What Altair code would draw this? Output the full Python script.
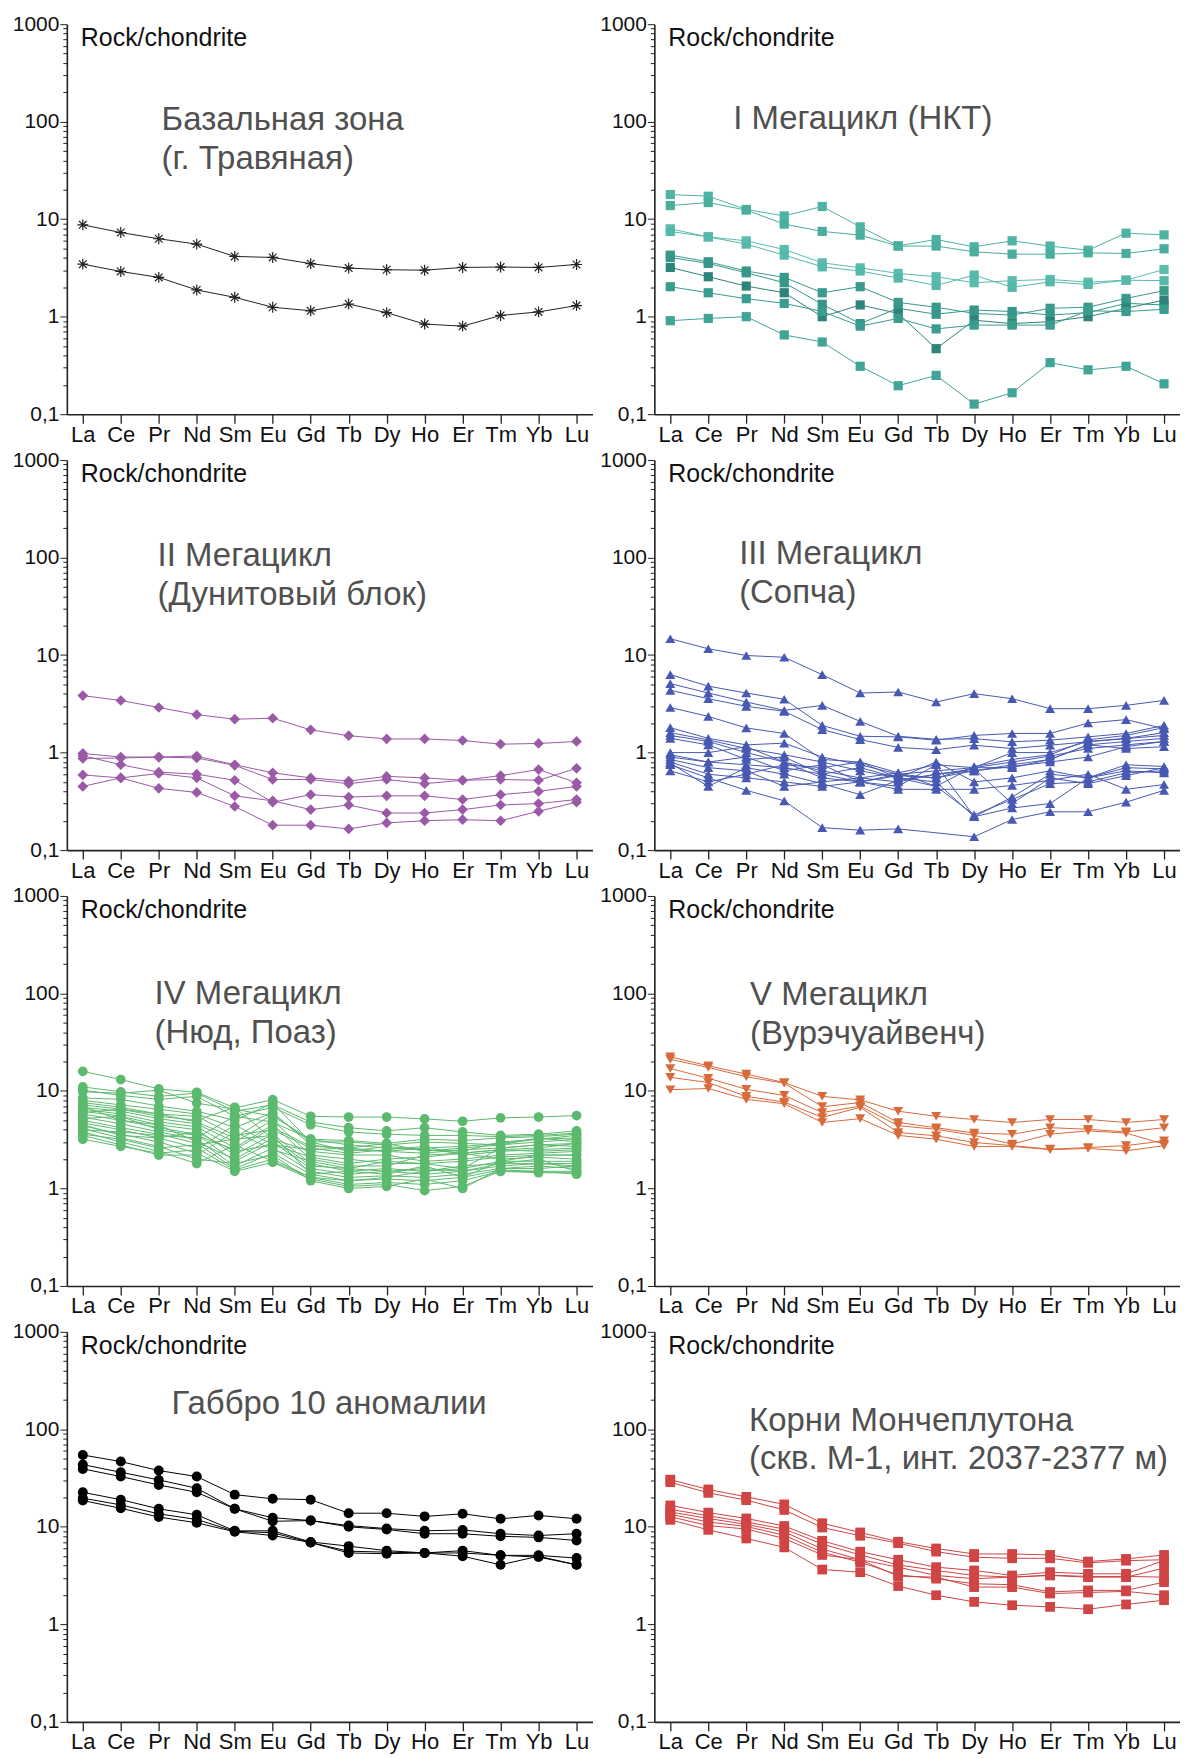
import altair as alt
import pandas as pd

ELEMENTS = ["La", "Ce", "Pr", "Nd", "Sm", "Eu", "Gd", "Tb", "Dy", "Ho", "Er", "Tm", "Yb", "Lu"]

# ---- Базальная зона (г. Травяная)
basal = [
    [8.75, 7.3, 6.3, 5.55, 4.15, 4.05, 3.5, 3.15, 3.03, 3.0, 3.2, 3.23, 3.2, 3.43],
    [3.46, 2.91, 2.53, 1.88, 1.58, 1.25, 1.15, 1.35, 1.1, 0.84, 0.80, 1.03, 1.12, 1.3],
]

# ---- I Мегацикл (НКТ)
mc1 = [
    [17.9, 17.2, 12.6, 10.8, 13.5, 8.35, 5.33, 6.19, 5.21, 6.0, 5.3, 4.81, 7.19, 6.91],
    [13.8, 14.8, 12.4, 8.9, 7.5, 6.86, 5.3, 5.3, 4.63, 4.38, 4.38, 4.52, 4.45, 4.97],
    [7.96, 6.59, 6.0, 4.89, 3.57, 3.17, 2.78, 2.57, 2.23, 2.34, 2.41, 2.26, 2.37, 3.05],
    [7.48, 6.59, 5.55, 4.28, 3.25, 2.94, 2.49, 2.09, 2.67, 2.0, 2.28, 2.14, 2.37, 2.34],
    [4.28, 3.66, 2.94, 2.53, 1.76, 2.03, 1.40, 1.25, 1.08, 1.04, 1.22, 1.25, 1.54, 1.85],
    [4.05, 3.52, 2.82, 2.23, 1.34, 0.85, 1.22, 1.06, 1.17, 1.13, 1.04, 1.10, 1.37, 1.32],
    [3.2, 2.57, 2.06, 1.76, 1.0, 1.32, 1.08, 0.47, 0.92, 0.85, 0.89, 1.0, 1.22, 1.48],
    [2.03, 1.76, 1.53, 1.37, 1.13, 0.80, 0.96, 0.75, 0.82, 0.82, 0.82, 1.15, 1.13, 1.19],
    [0.91, 0.96, 1.0, 0.65, 0.55, 0.31, 0.196, 0.25, 0.127, 0.166, 0.338, 0.285, 0.31, 0.205],
]
mc1_colors = ["#4db3a3", "#4aae9f", "#5cbdae", "#56b8aa", "#3a9a8c", "#35968a",
              "#2e8479", "#3a9c8f", "#40a596"]

# ---- II Мегацикл (Дунитовый блок)
mc2 = [
    [3.84, 3.42, 2.9, 2.45, 2.2, 2.25, 1.71, 1.49, 1.38, 1.38, 1.33, 1.22, 1.24, 1.30],
    [0.98, 0.90, 0.90, 0.92, 0.75, 0.62, 0.55, 0.51, 0.57, 0.55, 0.52, 0.58, 0.67, 0.49],
    [0.87, 0.88, 0.90, 0.88, 0.74, 0.53, 0.53, 0.48, 0.53, 0.48, 0.52, 0.53, 0.52, 0.69],
    [0.93, 0.75, 0.63, 0.60, 0.52, 0.31, 0.37, 0.35, 0.36, 0.36, 0.33, 0.37, 0.40, 0.45],
    [0.59, 0.55, 0.61, 0.55, 0.36, 0.32, 0.26, 0.29, 0.24, 0.24, 0.26, 0.29, 0.30, 0.33],
    [0.45, 0.55, 0.43, 0.39, 0.28, 0.18, 0.18, 0.165, 0.19, 0.20, 0.205, 0.20, 0.25, 0.31],
]

# ---- III Мегацикл (Сопча)
mc3 = [
    [14.7, 11.6, 9.9, 9.5, 6.3, 4.08, 4.18, 3.3, 4.02, 3.57, 2.82, 2.82, 3.05, 3.43],
    [6.3, 4.8, 4.08, 3.52, 1.9, 1.47, 1.45, 1.34, 1.5, 1.57, 1.57, 2.01, 2.18, 1.76],
    [5.1, 4.08, 3.3, 2.71, 3.05, 2.09, 1.47, 1.37, 1.39, 1.29, 1.34, 1.45, 1.57, 1.9],
    [4.35, 3.57, 2.98, 2.65, 1.72, 1.36, 1.13, 1.07, 1.19, 1.1, 1.19, 1.29, 1.39, 1.5],
    [2.9, 2.35, 1.79, 1.57, 0.85, 0.80, 0.62, 0.75, 0.70, 0.80, 0.92, 1.1, 1.2, 1.3],
    [1.8, 1.4, 1.2, 1.25, 0.9, 0.75, 0.6, 0.55, 0.7, 1.0, 1.0, 1.3, 1.4, 1.6],
    [1.6, 1.35, 1.1, 0.95, 0.8, 0.65, 0.55, 0.45, 0.72, 0.85, 0.95, 1.35, 1.5, 1.8],
    [1.5, 1.3, 1.0, 0.8, 0.65, 0.55, 0.5, 0.6, 0.65, 0.75, 0.85, 1.2, 1.3, 1.4],
    [1.0, 1.0, 1.15, 0.8, 0.55, 0.5, 0.45, 0.75, 0.22, 0.35, 0.6, 0.55, 0.75, 0.72],
    [0.9, 0.8, 0.75, 0.7, 0.6, 0.7, 0.55, 0.5, 0.22, 0.27, 0.3, 0.55, 0.7, 0.68],
    [0.85, 0.7, 0.65, 0.45, 0.5, 0.55, 0.62, 0.45, 0.23, 0.33, 0.48, 0.5, 0.62, 0.65],
    [0.8, 0.6, 0.55, 0.5, 0.45, 0.5, 0.42, 0.42, 0.42, 0.46, 0.52, 0.6, 0.42, 0.47],
    [0.75, 0.55, 0.41, 0.32, 0.17, 0.16, 0.165, None, 0.137, 0.206, 0.247, 0.247, 0.31, 0.41],
    [0.65, 0.5, 0.6, 0.75, 0.7, 0.8, 0.55, 0.8, 0.5, 0.55, 0.65, 0.55, 0.65, 0.62],
    [0.95, 0.8, 0.9, 0.65, 0.75, 0.5, 0.6, 0.65, 0.7, 0.7, 0.85, 1.2, 1.1, 1.15],
    [1.4, 1.2, 0.85, 0.9, 0.6, 0.5, 0.58, 0.55, 0.65, 0.72, 0.8, 0.9, 1.15, 1.3],
    [0.78, 0.45, 0.7, 0.6, 0.48, 0.37, 0.52, 0.6, 0.68, 0.3, 0.55, 0.48, 0.58, 0.7],
]

# ---- IV Мегацикл (Нюд, Поаз)
mc4 = [
    [15.9, 13.1, 10.5, 9.7, 6.7, 8.15, 5.5, 5.4, 5.4, 5.17, 4.89, 5.3, 5.4, 5.6],
    [11.0, 9.8, 8.8, 9.5, 6.2, 7.2, 4.8, 4.2, 3.9, 4.2, 3.8, 3.5, 3.6, 3.9],
    [10.2, 9.0, 8.2, 8.8, 5.5, 6.8, 4.5, 3.8, 3.6, 3.5, 3.5, 3.4, 3.5, 3.7],
    [9.8, 9.5, 10.2, 7.5, 6.5, 5.5, 3.2, 2.8, 2.6, 2.5, 2.4, 3.0, 3.2, 3.5],
    [8.5, 8.2, 7.0, 6.2, 5.0, 7.5, 3.0, 3.0, 2.8, 3.0, 2.9, 2.8, 3.3, 3.0],
    [8.0, 7.2, 6.5, 5.8, 4.2, 6.0, 2.8, 2.5, 2.4, 2.3, 2.5, 2.6, 2.8, 2.7],
    [7.6, 6.8, 5.8, 5.5, 3.5, 4.0, 2.6, 2.3, 2.5, 2.7, 2.2, 2.4, 2.5, 2.6],
    [7.2, 6.5, 5.5, 5.0, 6.8, 3.2, 2.4, 2.2, 2.2, 1.9, 2.0, 2.2, 2.3, 2.4],
    [6.8, 6.2, 5.2, 4.6, 3.0, 5.0, 2.2, 2.0, 1.8, 1.8, 1.9, 2.1, 2.2, 2.2],
    [6.5, 5.8, 4.8, 4.3, 2.6, 4.5, 2.0, 1.7, 1.7, 2.2, 2.3, 2.0, 2.1, 2.0],
    [6.2, 5.5, 4.5, 4.0, 2.2, 3.6, 1.8, 1.5, 1.6, 1.5, 1.6, 1.9, 1.9, 1.9],
    [5.8, 5.0, 4.2, 3.6, 1.9, 3.0, 1.6, 1.4, 1.5, 1.4, 1.5, 1.7, 1.8, 1.8],
    [5.4, 4.6, 3.8, 3.2, 1.7, 2.6, 1.5, 1.3, 1.35, 1.3, 1.4, 1.6, 1.6, 1.7],
    [5.0, 4.2, 3.6, 2.9, 1.6, 2.3, 1.4, 1.2, 1.25, 1.2, 1.3, 1.55, 1.5, 1.5],
    [4.7, 4.0, 3.3, 2.6, 1.55, 2.0, 1.3, 1.1, 1.15, 1.1, 1.2, 1.5, 1.45, 1.45],
    [4.4, 3.6, 3.0, 2.3, 1.5, 1.85, 1.25, 1.05, 1.1, 0.95, 1.05, 1.5, 1.5, 1.4],
    [4.1, 3.3, 2.7, 2.0, 1.8, 2.2, 1.2, 1.0, 1.05, 1.25, 1.0, 1.6, 1.7, 1.6],
    [3.8, 3.0, 2.4, 1.8, 2.8, 1.9, 1.3, 1.2, 1.3, 1.5, 1.7, 1.8, 2.0, 1.5],
    [3.5, 2.8, 2.2, 2.2, 3.8, 2.5, 1.9, 1.6, 1.9, 1.8, 1.6, 2.6, 2.8, 2.9],
    [3.2, 2.7, 2.3, 2.5, 4.5, 2.8, 2.5, 2.6, 2.4, 2.6, 2.7, 2.9, 3.2, 3.3],
    [4.0, 3.8, 3.5, 3.3, 5.5, 4.8, 3.2, 3.1, 2.9, 3.2, 3.1, 3.3, 3.4, 3.6],
    [5.2, 5.5, 4.0, 3.5, 2.5, 4.2, 2.7, 2.6, 2.9, 2.4, 2.6, 2.8, 3.0, 3.2],
    [6.0, 6.5, 5.8, 4.8, 3.3, 5.8, 3.0, 2.4, 2.7, 2.5, 2.3, 2.5, 2.6, 2.9],
    [7.0, 5.0, 4.5, 3.0, 2.0, 3.3, 1.7, 1.6, 1.5, 1.6, 1.5, 1.8, 1.8, 1.7],
    [4.5, 3.5, 3.3, 3.8, 2.4, 2.8, 2.1, 1.8, 2.0, 2.1, 2.3, 2.5, 2.4, 2.5],
    [3.6, 3.2, 2.6, 2.8, 3.2, 3.5, 1.4, 1.5, 1.4, 1.7, 1.3, 1.9, 2.2, 2.2],
]

# ---- V Мегацикл (Вурэчуайвенч)
mc5 = [
    [22.4, 18.1, 14.9, 12.2, 8.8, 8.1, 6.2, 5.5, 5.1, 4.75, 5.1, 5.1, 4.75, 5.1],
    [21.1, 17.4, 14.0, 12.0, 6.9, 7.6, 4.75, 4.2, 3.7, 3.6, 4.2, 4.05, 3.8, 4.2],
    [17.0, 13.5, 10.4, 9.0, 6.0, 7.0, 4.4, 4.05, 3.5, 2.85, 3.6, 3.9, 3.7, 2.85],
    [13.8, 12.2, 8.8, 7.7, 5.35, 6.8, 3.75, 3.47, 2.96, 2.75, 2.53, 2.63, 2.75, 3.08],
    [10.3, 10.6, 8.2, 7.4, 4.75, 5.2, 3.5, 3.2, 2.7, 2.7, 2.5, 2.57, 2.43, 2.75],
]

# ---- Габбро 10 аномалии
gabbro = [
    [54.6, 46.7, 37.8, 32.8, 21.4, 19.4, 19.0, 13.8, 13.8, 12.8, 13.6, 12.1, 13.1, 12.1],
    [43.5, 36.3, 30.3, 24.9, 15.3, 12.4, 11.6, 10.3, 9.6, 9.1, 9.3, 8.5, 8.15, 8.5],
    [39.3, 32.8, 26.9, 22.6, 15.3, 11.4, 11.6, 10.0, 9.4, 8.5, 8.5, 8.0, 7.8, 7.25],
    [22.6, 19.0, 15.3, 13.3, 9.1, 9.1, 7.0, 6.34, 5.7, 5.4, 5.7, 5.1, 5.1, 4.78],
    [19.7, 16.8, 13.6, 11.9, 9.0, 8.7, 6.9, 5.63, 5.5, 5.4, 5.4, 5.1, 4.9, 4.08],
    [18.6, 15.5, 12.6, 11.0, 8.9, 8.15, 6.9, 5.4, 5.3, 5.4, 5.0, 4.08, 5.0, 4.08],
]

# ---- Корни Мончеплутона (скв. М-1, инт. 2037-2377 м)
monche = [
    [30.5, 24.2, 20.3, 17.0, 10.9, 8.76, 7.04, 6.0, 5.27, 5.27, 5.15, 4.41, 4.69, 5.15],
    [28.7, 22.3, 18.8, 14.9, 9.85, 8.1, 6.8, 5.57, 4.88, 4.76, 4.76, 4.27, 4.5, 4.6],
    [16.6, 14.0, 12.2, 10.2, 7.2, 5.57, 4.6, 3.86, 3.57, 3.17, 3.43, 3.3, 3.3, 4.51],
    [15.1, 13.0, 11.2, 9.5, 6.67, 5.15, 4.07, 3.57, 3.17, 3.05, 3.17, 3.05, 3.05, 3.77],
    [14.2, 12.2, 10.6, 8.9, 5.93, 4.6, 3.86, 3.17, 2.94, 3.05, 3.2, 3.1, 3.1, 3.05],
    [13.5, 11.2, 10.1, 8.2, 5.49, 4.34, 3.22, 2.94, 2.61, 2.55, 2.15, 2.23, 2.23, 2.71],
    [12.7, 10.3, 9.5, 7.6, 5.15, 4.6, 3.12, 3.05, 2.41, 2.41, 2.07, 2.12, 2.18, 1.99],
    [11.8, 9.32, 7.6, 6.16, 3.65, 3.43, 2.47, 1.99, 1.70, 1.57, 1.51, 1.43, 1.6, 1.77],
]

FONT = "Liberation Sans"
W, H = 527, 391
ASTERISK = "M-1,0L1,0M0,-1L0,1M-0.7,-0.7L0.7,0.7M-0.7,0.7L0.7,-0.7"

YTICKS = [m * 10.0 ** e for e in range(-1, 3) for m in range(1, 10)] + [1000.0]
MAJOR_TEST = "abs(log(datum.value)/LN10 - round(log(datum.value)/LN10)) < 1e-6"


def panel(series, colors, shape, size, title_lines, tx, ty, filled=True, stroke_w=1.0):
    if isinstance(colors, str):
        colors = [colors] * len(series)
    rows = []
    for i, s in enumerate(series):
        for j, (el, v) in enumerate(zip(ELEMENTS, s)):
            if v is None:
                continue
            rows.append({"s": "s%02d" % i, "el": el, "idx": j, "v": v, "c": colors[i]})
    df = pd.DataFrame(rows)

    xaxis = alt.Axis(labelFont=FONT, labelFontSize=22, labelColor="#111", labelAngle=0,
                     tickSize=9, tickColor="#222", tickWidth=1.3, domainColor="#222",
                     domainWidth=1.6, labelPadding=1, grid=False, labelFlush=False)
    yaxis = alt.Axis(values=YTICKS, labelFont=FONT, labelFontSize=21, labelColor="#111",
                     labelExpr="(" + MAJOR_TEST + ") ? (datum.value < 0.5 ? '0,1' : format(datum.value, 'd')) : ''",
                     tickSize={"condition": {"test": MAJOR_TEST, "value": 7}, "value": 4},
                     tickColor="#222", tickWidth=1, domainColor="#222", domainWidth=1.6,
                     labelPadding=1, grid=False, labelFlush=False, labelOverlap=False)

    base = alt.Chart(df).encode(
        x=alt.X("el:N", sort=ELEMENTS, title=None,
                scale=alt.Scale(type="point", padding=0.42, domain=ELEMENTS), axis=xaxis),
        y=alt.Y("v:Q", title=None,
                scale=alt.Scale(type="log", domain=[0.1, 1000], nice=False), axis=yaxis),
        color=alt.Color("c:N", scale=None, legend=None),
        detail="s:N",
        order="idx:Q",
    )
    lines = base.mark_line(strokeWidth=stroke_w)
    if filled:
        pts = base.mark_point(shape=shape, size=size, filled=True, opacity=1)
    else:
        pts = base.mark_point(shape=shape, size=size, filled=False, opacity=1, strokeWidth=1.2)

    one = pd.DataFrame({"a": [0]})
    label = alt.Chart(one).mark_text(font=FONT, fontSize=25, color="#111", align="left",
                                     baseline="middle").encode(
        x=alt.value(14), y=alt.value(14), text=alt.value("Rock/chondrite"))
    layers = [lines, pts, label]
    for k, t in enumerate(title_lines):
        layers.append(alt.Chart(one).mark_text(font=FONT, fontSize=33, color="#505050",
                                               align="left", baseline="middle").encode(
            x=alt.value(tx), y=alt.value(ty + 39 * k), text=alt.value(t)))
    return alt.layer(*layers).properties(width=W, height=H)


p1 = panel(basal, "#222222", ASTERISK, 120, ["Базальная зона", "(г. Травяная)"], 95, 96,
           filled=False)
p2 = panel(mc1, mc1_colors, "square", 85, ["I Мегацикл (НКТ)"], 79, 95)
p3 = panel(mc2, "#9b5aa6", "diamond", 115, ["II Мегацикл", "(Дунитовый блок)"], 91, 96)
p4 = panel(mc3, "#4759b3", "triangle-up", 100, ["III Мегацикл", "(Сопча)"], 85, 94)
p5 = panel(mc4, "#5cba6e", "circle", 95, ["IV Мегацикл", "(Нюд, Поаз)"], 88, 98)
p6 = panel(mc5, "#d86a3c", "triangle-down", 100, ["V Мегацикл", "(Вурэчуайвенч)"], 96, 99)
p7 = panel(gabbro, "#000000", "circle", 100, ["Габбро 10 аномалии"], 105, 72)
p8 = panel(monche, "#d04444", "square", 95,
           ["Корни Мончеплутона", "(скв. М-1, инт. 2037-2377 м)"], 95, 89)

chart = alt.vconcat(
    alt.hconcat(p1, p2, spacing=7),
    alt.hconcat(p3, p4, spacing=7),
    alt.hconcat(p5, p6, spacing=7),
    alt.hconcat(p7, p8, spacing=7),
    spacing=4,
).properties(
    padding={"left": 4, "top": 3, "right": 0, "bottom": 0}, background="white"
).configure_view(stroke="transparent", strokeWidth=0)

chart.save("out.html", embed_options={"renderer": "svg", "actions": False})
